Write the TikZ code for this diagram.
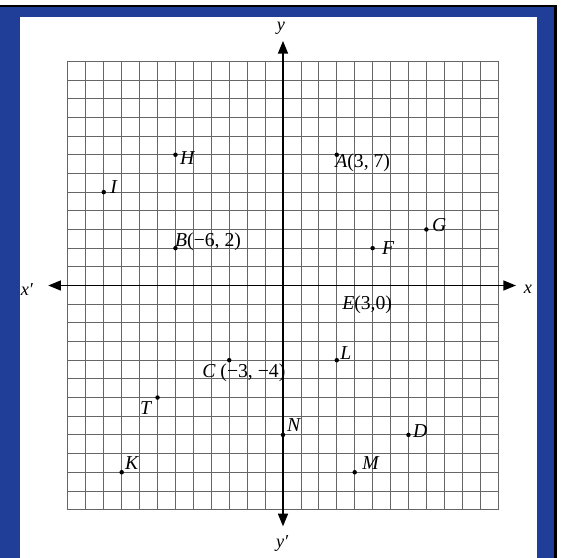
\documentclass[tikz,border=0pt]{standalone}
\usepackage{fontspec}
\setmainfont{Liberation Serif}
\usetikzlibrary{arrows.meta}
\definecolor{MarcoAzul}{RGB}{32,61,151}
\tikzset{
  gridline/.style={draw=black!60, line width=0.6pt},
  axisline/.style={{Triangle[length=9pt, width=7pt]}-{Triangle[length=9pt, width=7pt]}, line width=1.3pt},
  ptdot/.style={circle, fill=black, inner sep=0pt, minimum size=3.2pt},
  ptlabel/.style={font=\fontsize{14}{16}\selectfont, inner sep=0pt, anchor=west},
  axislabel/.style={font=\fontsize{13}{15}\selectfont\itshape, inner sep=0pt},
}

\begin{document}
\begin{tikzpicture}[x=0.025cm, y=-0.025cm]
  % marco
  \useasboundingbox (0,0) rectangle (575,558);
  \fill[white] (0,0) rectangle (575,558);
  \fill[MarcoAzul] (0,6) rectangle (555.5,558);
  \fill[white] (20,17) rectangle (537,558);
  \draw[line width=1.8pt] (0,6) -- (555.5,6) -- (555.5,558);

  \begin{scope}[shift={(283,285.5)}, x={(0.448cm,0)}, y={(0,0.46675cm)}]
    % cuadricula
    \draw[gridline, step={(1,1)}] (-12,-12) grid (12,12);

    % ejes
    \coordinate (xneg) at (-13.1,0);
    \coordinate (xpos) at (13.0,0);
    \coordinate (ypos) at (0,13.1);
    \coordinate (yneg) at (0,-12.9);
    \draw[axisline] (xneg) -- (xpos);
    \draw[axisline] (yneg) -- (ypos);
    \node[axislabel] (lxneg) at (-14.29,-0.24) {x′};
    \node[axislabel] (lxpos) at (13.67,-0.19) {x};
    \node[axislabel] (lypos) at (-0.11,13.79) {y};
    \node[axislabel] (lyneg) at (-0.05,-13.79) {y′};

    % puntos
    \foreach \n/\px/\py/\lx/\ly/\t in {
        H/-6/7/-5.75/6.83/{\textit{H}},
        I/-10/5/-9.65/5.28/{\textit{I}},
        B/-6/2/-6.03/2.33/{\textit{B}(−6, 2)},
        A/3/7/2.90/6.56/{\textit{A}(3, 7)},
        G/8/3/8.31/3.24/{\textit{G}},
        F/5/2/5.52/2.01/{\textit{F}},
        L/3/-4/3.18/-3.62/{\textit{L}},
        C/-3/-4/-4.52/-4.69/{\textit{C} (−3, −4)},
        T/-7/-6/-7.98/-6.56/{\textit{T}},
        K/-9/-10/-8.82/-9.51/{\textit{K}},
        N/0/-8/0.22/-7.47/{\textit{N}},
        D/7/-8/7.25/-7.79/{\textit{D}},
        M/4/-10/4.41/-9.51/{\textit{M}}}{
      \node[ptdot] (\n) at (\px,\py) {};
      \node[ptlabel] (l\n) at (\lx,\ly) {\t};
    }
    \node[ptlabel] (lE) at (3.29,-1.04) {\textit{E}(3,0)};
  \end{scope}
\end{tikzpicture}
\end{document}
